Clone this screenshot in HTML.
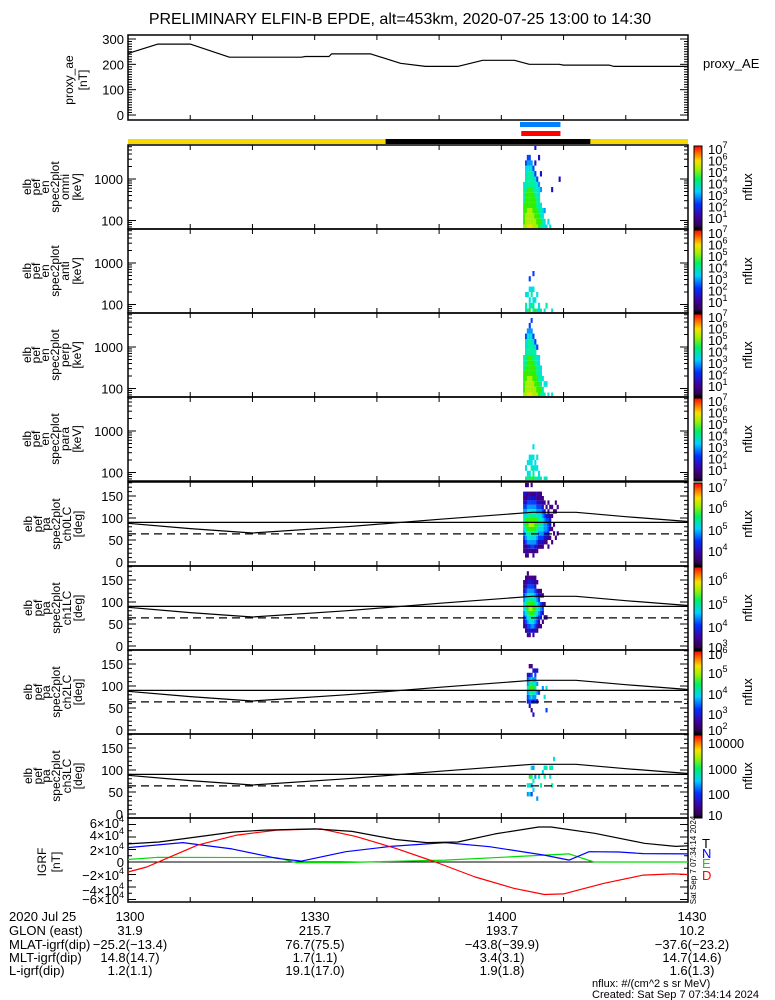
<!DOCTYPE html>
<html><head><meta charset="utf-8">
<style>
html,body{margin:0;padding:0;background:#fff;}
svg{display:block;font-family:"Liberation Sans",sans-serif;}
text{fill:#000;}
</style></head>
<body>
<svg id="chart" width="775" height="1000" viewBox="0 0 775 1000" xmlns="http://www.w3.org/2000/svg">
<text x="400" y="24" font-size="16" text-anchor="middle">PRELIMINARY ELFIN-B EPDE, alt=453km, 2020-07-25 13:00 to 14:30</text>
</svg>
<script>
// ---------- DATA (minutes after 13:00) ----------
const aeT = [0,4.8,10,16.3,27.9,28.5,32.3,32.7,39,43.8,47.8,53,57,62.1,64.5,69.3,70,77.3,78.1,90];
const aeV = [243,280,280,228,228,231,231,241,241,204,192,192,216,216,200,200,197,197,192,192];
const igrfTT = [0,5,11,17,22,30,36,43,48,53,59,66,68,75,83,88,90];
const igrfTV = [2.9e4,3.2e4,4.0e4,4.8e4,5.1e4,5.3e4,4.9e4,3.6e4,3.1e4,3.2e4,4.5e4,5.6e4,5.6e4,4.6e4,3.0e4,2.5e4,2.6e4];
const igrfDT = [0,3,5.6,11.2,17.5,23.9,31,36.6,43,49.4,55.8,62,66.9,70,76.5,82.8,87.6,90];
const igrfDV = [-1.6e4,-0.8e4,0.3e4,2.7e4,4.3e4,5.1e4,5.3e4,4.1e4,2.2e4,0,-2.4e4,-4.2e4,-5.2e4,-5.1e4,-3.4e4,-2.1e4,-1.9e4,-2.0e4];
const igrfNT = [0,8.8,16.7,23.9,27.9,35,42.2,51,58.1,66.9,70.9,74.1,78.9,82.8,90];
const igrfNV = [2.3e4,3.1e4,2.1e4,0.6e4,0.15e4,1.65e4,2.5e4,3.1e4,2.45e4,1.1e4,0.3e4,1.65e4,1.6e4,1.35e4,1.3e4];
const igrfET = [0,4.8,23.9,27,34,51,62.9,70.9,74.9,90];
const igrfEV = [0.4e4,0.75e4,0.7e4,-0.1e4,-0.1e4,0.3e4,0.9e4,1.3e4,0,0];
const lcT = [0,10,20,35,50,65,72,80,90];
const lcV = [88,76,66,80,97,113,113,103,92];
const lcSolid = 90, lcDashed = 64;
const specT0 = 63.5, specDT = 0.3;
const eBins = [55,80,110,150,200,270,360,480,640,850,1150,1550,2100,2800,3800,5000,7000];
const omniCols = ["877776665","8887777666553","98887777666543","98887777666543..2","9888777766654...1","888777766653....3","88777766653.2..2","8777666553","777666554....2","67665..4..2","6655","55.4","5",".5","5",".......2","","","",".........2"];
const antiCols = ["","56.5","6..5..","755.5.3",".6.65","565.5..3","7.5","6..5","55","6","","5",".6","","","5","","","",""];
const perpCols = ["87777666","888777666553","9888777766654","98887777666543","9888777766654.3","888777766653","88777766653","87776665.3","77766655","676655","66.5","6.5","..5","5","","5","","","",""];
const paraCols = ["","6.5","65.5","75.55.","6.655..","765.5.5","6.55","6.5.5","55..","6","","5","6","","","","","","",""];
const paBins = 18; // 10-degree bins 0..180
const pa0Cols = ["..11234566543212..",".121345677543212.1",".112456777654321.1","..12456787654321..","..13456787654321.1",".113456787654321..","..12456777654321..","..12345677543212..","...1234566543211..","...1234566543211..","...123455543211...","....12344432.1....","....1234432.1.....","...1.1233321.1....",".....1.1221.1.....","....1..1..1.1.....","......1.1..1......",".....1.....1.1....","......1.....1.....",""];
const pa1Cols = ["....12345543211...","...1234566543211..","..123456776543211.","..12356787654321..","...2456787654321..","..12456777654321..","...2345676543211..","...1234565432.1...","....123454321.....","....1.2343.21.....",".....1.232.1......","......1..1........","......1...........",""];
const pa2Cols = ["","","......2345432.....",".....23467642.1...","....1.3567653.1...","...2..246764.2....","......34565432....","......2.4.4..2....","........3.........","",".........4.......",".......5..........","....3....5........"];
const pa3Cols = ["","","....4.5...........","....5.6.7.........","....3.4.6.5.......",".....5.6..4.......","........4.........","...4..............","........5.........","......6...........",".........5........","........6.5.......","..........6.......","","........5.6.......","......6...5.......","............5....."];

// ---------- LAYOUT ----------
const X0 = 128, X1 = 688, TSPAN = 90;
const svg = document.getElementById('chart');
const NS = 'http://www.w3.org/2000/svg';
function xs(m){ return X0 + m/TSPAN*(X1-X0); }
function mk(tag, attrs, parent){ const e=document.createElementNS(NS,tag); for(const k in attrs) e.setAttribute(k,attrs[k]); (parent||svg).appendChild(e); return e; }
function txt(x,y,s,size,anchor,parent){ const t=mk('text',{x:x,y:y,'font-size':size||13,'text-anchor':anchor||'start'},parent); t.textContent=s; return t; }
const levelColors = ['#fff','#40008a','#1a10c8','#0040ff','#0098ff','#00e0e0','#00f0a0','#30f000','#a8f000','#f0e000'];

function frame(top,bot,name){
  const g = mk('g',{});
  
  
  mk('rect',{x:X0,y:top,width:X1-X0,height:bot-top,fill:'none',stroke:'#000','stroke-width':1.5},g);
  for(let m=10;m<90;m+=10){ const x=xs(m); mk('line',{x1:x,y1:top,x2:x,y2:top+5,stroke:'#000'},g); mk('line',{x1:x,y1:bot,x2:x,y2:bot-5,stroke:'#000'},g); }
  return g;
}
function yTick(g,y,len){ mk('line',{x1:X0,y1:y,x2:X0+len,y2:y,stroke:'#000'},g); mk('line',{x1:X1,y1:y,x2:X1-len,y2:y,stroke:'#000'},g); }
function sideLabel(lines, xsArr, yc, name){
  const g = mk('g',{});
  
  
  lines.forEach((s,i)=>{ const t=mk('text',{x:0,y:0,'font-size':12,'text-anchor':'middle',transform:`translate(${xsArr[i]+4},${yc}) rotate(-90)`},g); t.textContent=s; });
}
function colorbar(top,bot,labels,name){
  const g=mk('g',{});
  
  
  const id='cb'+top;
  const lg=mk('linearGradient',{id:id,x1:0,y1:1,x2:0,y2:0},g);
  [['0','#000'],['0.04','#300050'],['0.15','#4000a0'],['0.3','#0030ff'],['0.45','#00d0ff'],['0.6','#00f060'],['0.72','#a0f000'],['0.82','#f8e000'],['0.9','#ff8000'],['1','#ff0000']].forEach(s=>mk('stop',{offset:s[0],'stop-color':s[1]},lg));
  mk('rect',{x:694,y:top+1,width:8,height:bot-top-1,fill:`url(#${id})`,stroke:'#000','stroke-width':1},g);
  labels.forEach(l=>{
    const t=mk('text',{x:708,y:l[1]+5,'font-size':13},g);
    if(l[2]){ t.textContent=l[0]; } else { t.textContent='10'; const s=mk('tspan',{dy:-6,'font-size':9},t); s.textContent=l[0]; }
  });
  const t=mk('text',{x:0,y:0,'font-size':13,'text-anchor':'middle',transform:`translate(752,${(top+bot)/2}) rotate(-90)`},g); t.textContent='nflux';
}
function polyline(T,V,xf,yf,color,name,dash){
  const pts=T.map((t,i)=>xf(t).toFixed(1)+','+yf(V[i]).toFixed(1)).join(' ');
  const p=mk('polyline',{points:pts,fill:'none',stroke:color,'stroke-width':1.2,'stroke-linejoin':'round'});
  if(dash) p.setAttribute('stroke-dasharray',dash);
  
  
  return p;
}

// ---------- PROXY AE ----------
{
  const top=35,bot=120; const ya=v=>115-v*76/300;
  const g=frame(top,bot,'proxy-ae-panel');
  for(let v=0;v<=300;v+=10){ yTick(g,ya(v), v%100===0?8:4); }
  [0,100,200,300].forEach(v=>txt(124,ya(v)+5,String(v),13,'end',g));
  polyline(aeT,aeV,xs,ya,'#000','proxy-ae-line');
  sideLabel(['proxy_ae','[nT]'],[69,83],80,'proxy-ae-axis-title');
  const t=txt(703,68,'proxy_AE',13);  
}
// ---------- bars ----------
{
  let r=mk('rect',{x:xs(63),y:122,width:xs(69.5)-xs(63),height:5,fill:'#0080ff'});  
  r=mk('rect',{x:xs(63.2),y:131,width:xs(69.5)-xs(63.2),height:5,fill:'#ff0000'});  
  r=mk('rect',{x:X0,y:139,width:X1-X0,height:5,fill:'#f8d800'});  
  r=mk('rect',{x:xs(41.4),y:139,width:xs(74.3)-xs(41.4),height:5,fill:'#000'});  
}
// ---------- ENERGY SPECTRA ----------
const eNames=['omni','anti','perp','para'];
const eData=[omniCols,antiCols,perpCols,paraCols];
[145,229,313,397].forEach((top,pi)=>{
  const bot=top+84;
  const ye=e=>top+34-(Math.log10(e)-3)*41.5;
  const g=frame(top,bot,'spec-'+eNames[pi]+'-panel');
  eData[pi].forEach((col,ci)=>{
    const x=xs(specT0+ci*specDT);
    for(let k=0;k<col.length;k++){
      const c=col[k]; if(c==='.') continue;
      const y1=Math.max(ye(eBins[k+1]),top+1), y2=Math.min(ye(eBins[k]),bot-1);
      const r=mk('rect',{x:x.toFixed(1),y:y1.toFixed(1),width:2.1,height:(y2-y1).toFixed(1),fill:levelColors[+c]},g);
      
      
    }
  });
  for(let d=1;d<=3;d++) for(let m=1;m<10;m++){ const y=ye(m*Math.pow(10,d)); if(y>top&&y<bot) yTick(g,y,m===1?8:4); }
  txt(123,ye(1000)+5,'1000',13,'end',g); txt(123,ye(100)+5,'100',13,'end',g);
  sideLabel(['elb','pef','en','spec2plot',eNames[pi],'[keV]'],[27,36,45,55,65,77],top+42,'spec-'+eNames[pi]+'-axis-title');
  const labs=[]; for(let e=7;e>=1;e--) labs.push([String(e),top+4+(7-e)*11.5]);
  colorbar(top,bot,labs,'colorbar-'+eNames[pi]);
});
// ---------- PITCH ANGLE ----------
const paData=[pa0Cols,pa1Cols,pa2Cols,pa3Cols];
const cbLabels=[
  t=>[['7',t+5],['6',t+26],['5',t+48],['4',t+69]],
  t=>[['6',t+14],['5',t+38],['4',t+61],['3',t+81]],
  t=>[['6',t+4],['5',t+23],['4',t+44],['3',t+64],['2',t+80]],
  t=>[['10000',t+9,1],['1000',t+35,1],['100',t+60,1],['10',t+81,1]]
];
[482,566,650,734].forEach((top,pi)=>{
  const bot=top+84;
  const yp=d=>bot-4-d*0.44;
  const g=frame(top,bot,'pa-ch'+pi+'-panel');
  paData[pi].forEach((col,ci)=>{
    const x=xs(specT0+ci*specDT);
    for(let k=0;k<col.length&&k<paBins;k++){
      const c=col[k]; if(c==='.') continue;
      const y1=yp((k+1)*10), y2=yp(k*10);
      const r=mk('rect',{x:x.toFixed(1),y:y1.toFixed(1),width:2.1,height:(y2-y1).toFixed(1),fill:levelColors[+c]},g);
      
      
    }
  });
  for(let d=0;d<=180;d+=10) if(yp(d)>top) yTick(g,yp(d),d%50===0?8:4);
  [0,50,100,150].forEach(d=>txt(123,yp(d)+5,String(d),13,'end',g));
  let l=mk('line',{x1:X0,y1:yp(lcSolid),x2:X1,y2:yp(lcSolid),stroke:'#000','stroke-width':1.2},g);
   
  l=mk('line',{x1:X0,y1:yp(lcDashed),x2:X1,y2:yp(lcDashed),stroke:'#000','stroke-width':1.2,'stroke-dasharray':'8,5'},g);
   
  polyline(lcT,lcV,xs,yp,'#000','loss-cone-line');
  sideLabel(['elb','pef','pa','spec2plot','ch'+pi+'LC','[deg]'],[28,38,46,56,67,78],top+42,'pa-ch'+pi+'-axis-title');
  colorbar(top,bot,cbLabels[pi](top),'colorbar-pa-ch'+pi);
});
// ---------- IGRF ----------
{
  const top=818,bot=902; const yi=v=>862-v*37.5/6e4;
  const g=frame(top,bot,'igrf-panel');
  for(let v=-6e4;v<=6e4;v+=1e4) yTick(g,yi(v),v%2e4===0?8:4);
  const labs=[[6,823],[4,835],[2,850],[0,862],[-2,875],[-4,890],[-6,899]];
  labs.forEach(l=>{
    if(l[0]===0){ txt(124,l[1]+5,'0',13,'end',g); return; }
    const t=mk('text',{x:124,y:l[1]+5,'font-size':13,'text-anchor':'end'},g);
    t.textContent=(l[0]<0?'\u2212':'')+Math.abs(l[0])+'\u00d710';
    const s=mk('tspan',{dy:-6,'font-size':9},t); s.textContent='4';
  });
  let l=mk('line',{x1:X0,y1:yi(0),x2:X1,y2:yi(0),stroke:'#000'},g);  
  polyline(igrfET,igrfEV,xs,yi,'#00dd00','igrf-e-line');
  polyline(igrfNT,igrfNV,xs,yi,'#0000ff','igrf-n-line');
  polyline(igrfDT,igrfDV,xs,yi,'#ff0000','igrf-d-line');
  polyline(igrfTT,igrfTV,xs,yi,'#000','igrf-t-line');
  sideLabel(['IGRF','[nT]'],[42,56],862,'igrf-axis-title');
  [['T',843,'#000'],['N',853,'#0000ff'],['E',863,'#00dd00'],['D',875,'#ff0000']].forEach(a=>{
    const t=txt(702,a[1]+5,a[0],13); t.setAttribute('fill',a[2]); t.style.fill=a[2];
     
  });
  const v=mk('text',{x:0,y:0,'font-size':8,'text-anchor':'middle',transform:'translate(696,860) rotate(-90)'}); v.textContent='Sat Sep  7 07:34:14 2024';
   
}
// ---------- FOOTER ----------
{
  const g=mk('g',{});
  
  
  const rows=[['2020 Jul 25',['1300','1330','1400','1430']],['GLON (east)',['31.9','215.7','193.7','10.2']],['MLAT-igrf(dip)',['-25.2(-13.4)','76.7(75.5)','-43.8(-39.9)','-37.6(-23.2)']],['MLT-igrf(dip)',['14.8(14.7)','1.7(1.1)','3.4(3.1)','14.7(14.6)']],['L-igrf(dip)',['1.2(1.1)','19.1(17.0)','1.9(1.8)','1.6(1.3)']]];
  const cx=[130,315,502,692], base=[921,935,949,962,975];
  rows.forEach((r,i)=>{ txt(9,base[i],r[0],13,'start',g); r[1].forEach((s,j)=>txt(cx[j],base[i],s.replace(/-/g,'\u2212'),13,'middle',g)); });
  txt(592,987,'nflux: #/(cm^2 s sr MeV)',11,'start',g);
  txt(592,998,'Created: Sat Sep  7 07:34:14 2024',11,'start',g);
}
</script>
</body></html>
